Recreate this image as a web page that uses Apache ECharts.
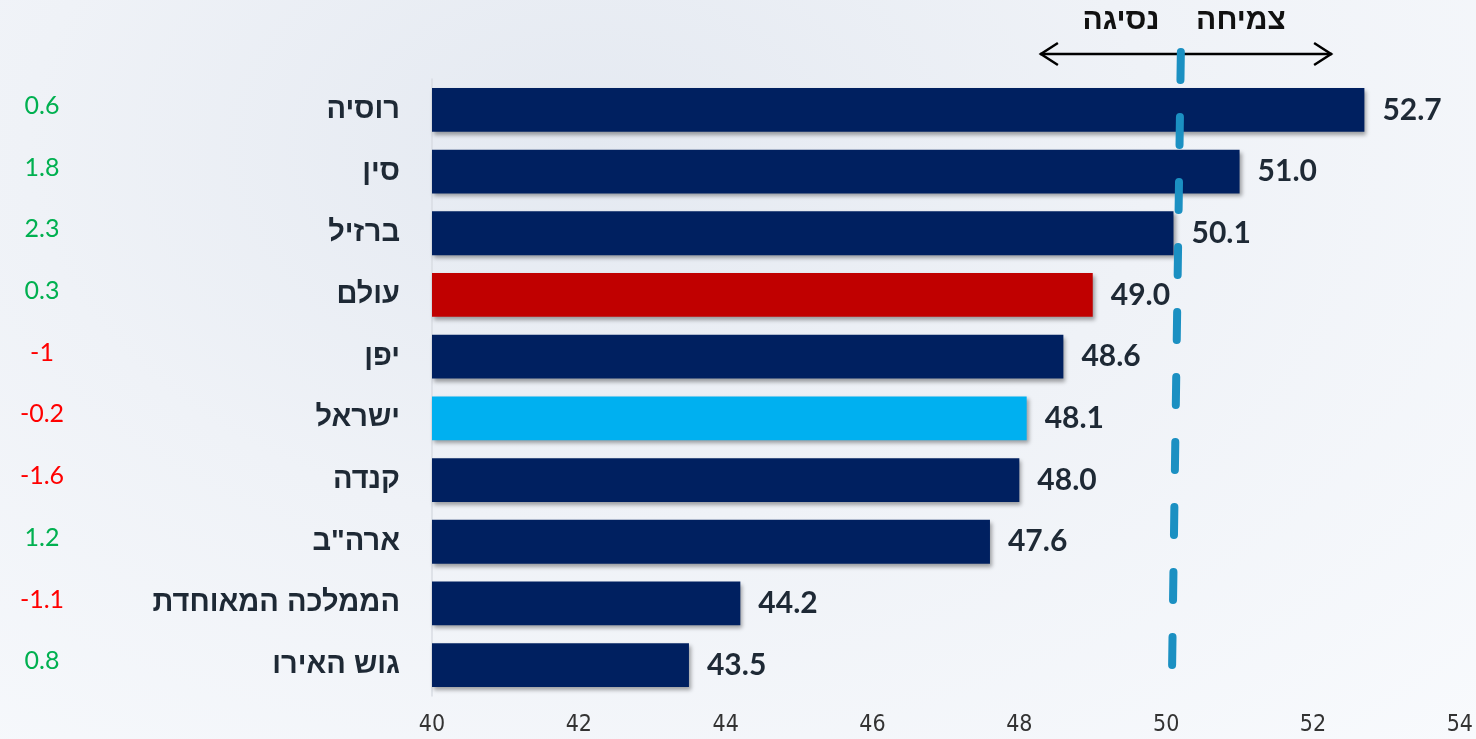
<!DOCTYPE html>
<html><head><meta charset="utf-8">
<script src="https://cdn.jsdelivr.net/npm/echarts@6/dist/echarts.min.js"></script>
<style>
html,body{margin:0;padding:0;width:1476px;height:739px;overflow:hidden;
background:radial-gradient(ellipse at 40% 20%, #e4e9f1 0%, #eff2f7 45%, #f8fafd 100%);}
#c{width:1476px;height:739px;}
</style></head><body><div id="c"></div>
<script>
const categories = ['רוסיה','סין','ברזיל','עולם','יפן','ישראל','קנדה','ארה"ב','הממלכה המאוחדת','גוש האירו'];
const pmiValues = [52.7, 51.0, 50.1, 49.0, 48.6, 48.1, 48.0, 47.6, 44.2, 43.5];
const changeValues = [0.6, 1.8, 2.3, 0.3, -1, -0.2, -1.6, 1.2, -1.1, 0.8];
const xTicks = [40, 42, 44, 46, 48, 50, 52, 54];
const threshold = 50;
const growthText = 'צמיחה';
const recessionText = 'נסיגה';

const NAVY = '#002060', RED = '#c00000', LIGHT = '#00b0f0';
function barColor(name){
  if (name === 'עולם') return RED;
  if (name === 'ישראל') return LIGHT;
  return NAVY;
}

const chart = echarts.init(document.getElementById('c'), null, {renderer:'canvas'});
const option = {
  backgroundColor: 'transparent',
  animation: false,
  grid: {left: 432, right: 16, top: 79, bottom: 43},
  xAxis: {
    type: 'value', min: xTicks[0], max: xTicks[xTicks.length-1], interval: 2,
    axisLine: {show: false}, axisTick: {show: false}, splitLine: {show: false},
    axisLabel: {color: '#333', fontSize: 23, fontFamily: '"Liberation Sans Narrow", "DejaVu Sans Condensed", Roboto', fontWeight: 'normal', margin: 18}
  },
  yAxis: [{
    type: 'category', data: categories, inverse: true,
    axisLine: {show: true, lineStyle: {color: '#d9dde3', width: 1.5}},
    axisTick: {show: false},
    axisLabel: {color: '#1e2935', fontSize: 29, fontWeight: 'bold', fontFamily: 'Liberation Sans', margin: 32}
  },{
    type: 'category', data: categories, inverse: true, position: 'left',
    axisLine: {show: false}, axisTick: {show: false},
    axisLabel: {
      margin: 390, align: 'center',
      formatter: function(v, i){
        const c = changeValues[i];
        return (c >= 0 ? '{g|' : '{r|') + String(c) + '}';
      },
      rich: {
        g: {color: '#00b050', fontSize: 25, fontFamily: 'Lato', padding: [0,0,8,0]},
        r: {color: '#ff0000', fontSize: 25, fontFamily: 'Lato', padding: [0,0,8,0]}
      }
    }
  }],
  series: [{
    type: 'bar', yAxisIndex: 0,
    barCategoryGap: '29%',
    data: pmiValues.map((v, i) => ({value: v, itemStyle: {color: barColor(categories[i])}})),
    itemStyle: {shadowColor: 'rgba(0,0,0,0.35)', shadowBlur: 4, shadowOffsetX: 2, shadowOffsetY: 3},
    label: {
      show: true, position: 'right', distance: 18,
      formatter: p => p.value.toFixed(1),
      color: '#1e2935', fontSize: 30, fontWeight: 'bold', fontFamily: 'Lato',
      padding: [10,0,0,0]
    }
  }]
};
chart.setOption(option);

// annotation: threshold dashed line and growth/recession arrow
const xTop = chart.convertToPixel({xAxisIndex: 0}, threshold + 0.2);
const xBot = chart.convertToPixel({xAxisIndex: 0}, threshold + 0.08);
const xL = chart.convertToPixel({xAxisIndex: 0}, 48.28);
const xR = chart.convertToPixel({xAxisIndex: 0}, 52.26);
const ay = 54;
chart.setOption({
  graphic: [
    {type: 'line', z: 10, shape: {x1: xTop, y1: 52, x2: xBot, y2: 670},
     style: {stroke: '#1b90c2', lineWidth: 8, lineCap: 'round', lineDash: [28, 37]}},
    {type: 'line', z: 9, shape: {x1: xL, y1: ay, x2: xR, y2: ay}, style: {stroke: '#000', lineWidth: 2.5}},
    {type: 'polyline', z: 9, shape: {points: [[xL+18, ay-11], [xL+1, ay], [xL+18, ay+11]]}, style: {stroke: '#000', lineWidth: 2.5, fill: null}},
    {type: 'polyline', z: 9, shape: {points: [[xR-18, ay-11], [xR-1, ay], [xR-18, ay+11]]}, style: {stroke: '#000', lineWidth: 2.5, fill: null}},
    {type: 'text', z: 9, x: 1121, y: 21, style: {text: recessionText, fill: '#111', font: 'bold 30px "Liberation Sans"', textAlign: 'center', textVerticalAlign: 'middle'}},
    {type: 'text', z: 9, x: 1241, y: 21, style: {text: growthText, fill: '#111', font: 'bold 30px "Liberation Sans"', textAlign: 'center', textVerticalAlign: 'middle'}}
  ]
});
</script></body></html>
